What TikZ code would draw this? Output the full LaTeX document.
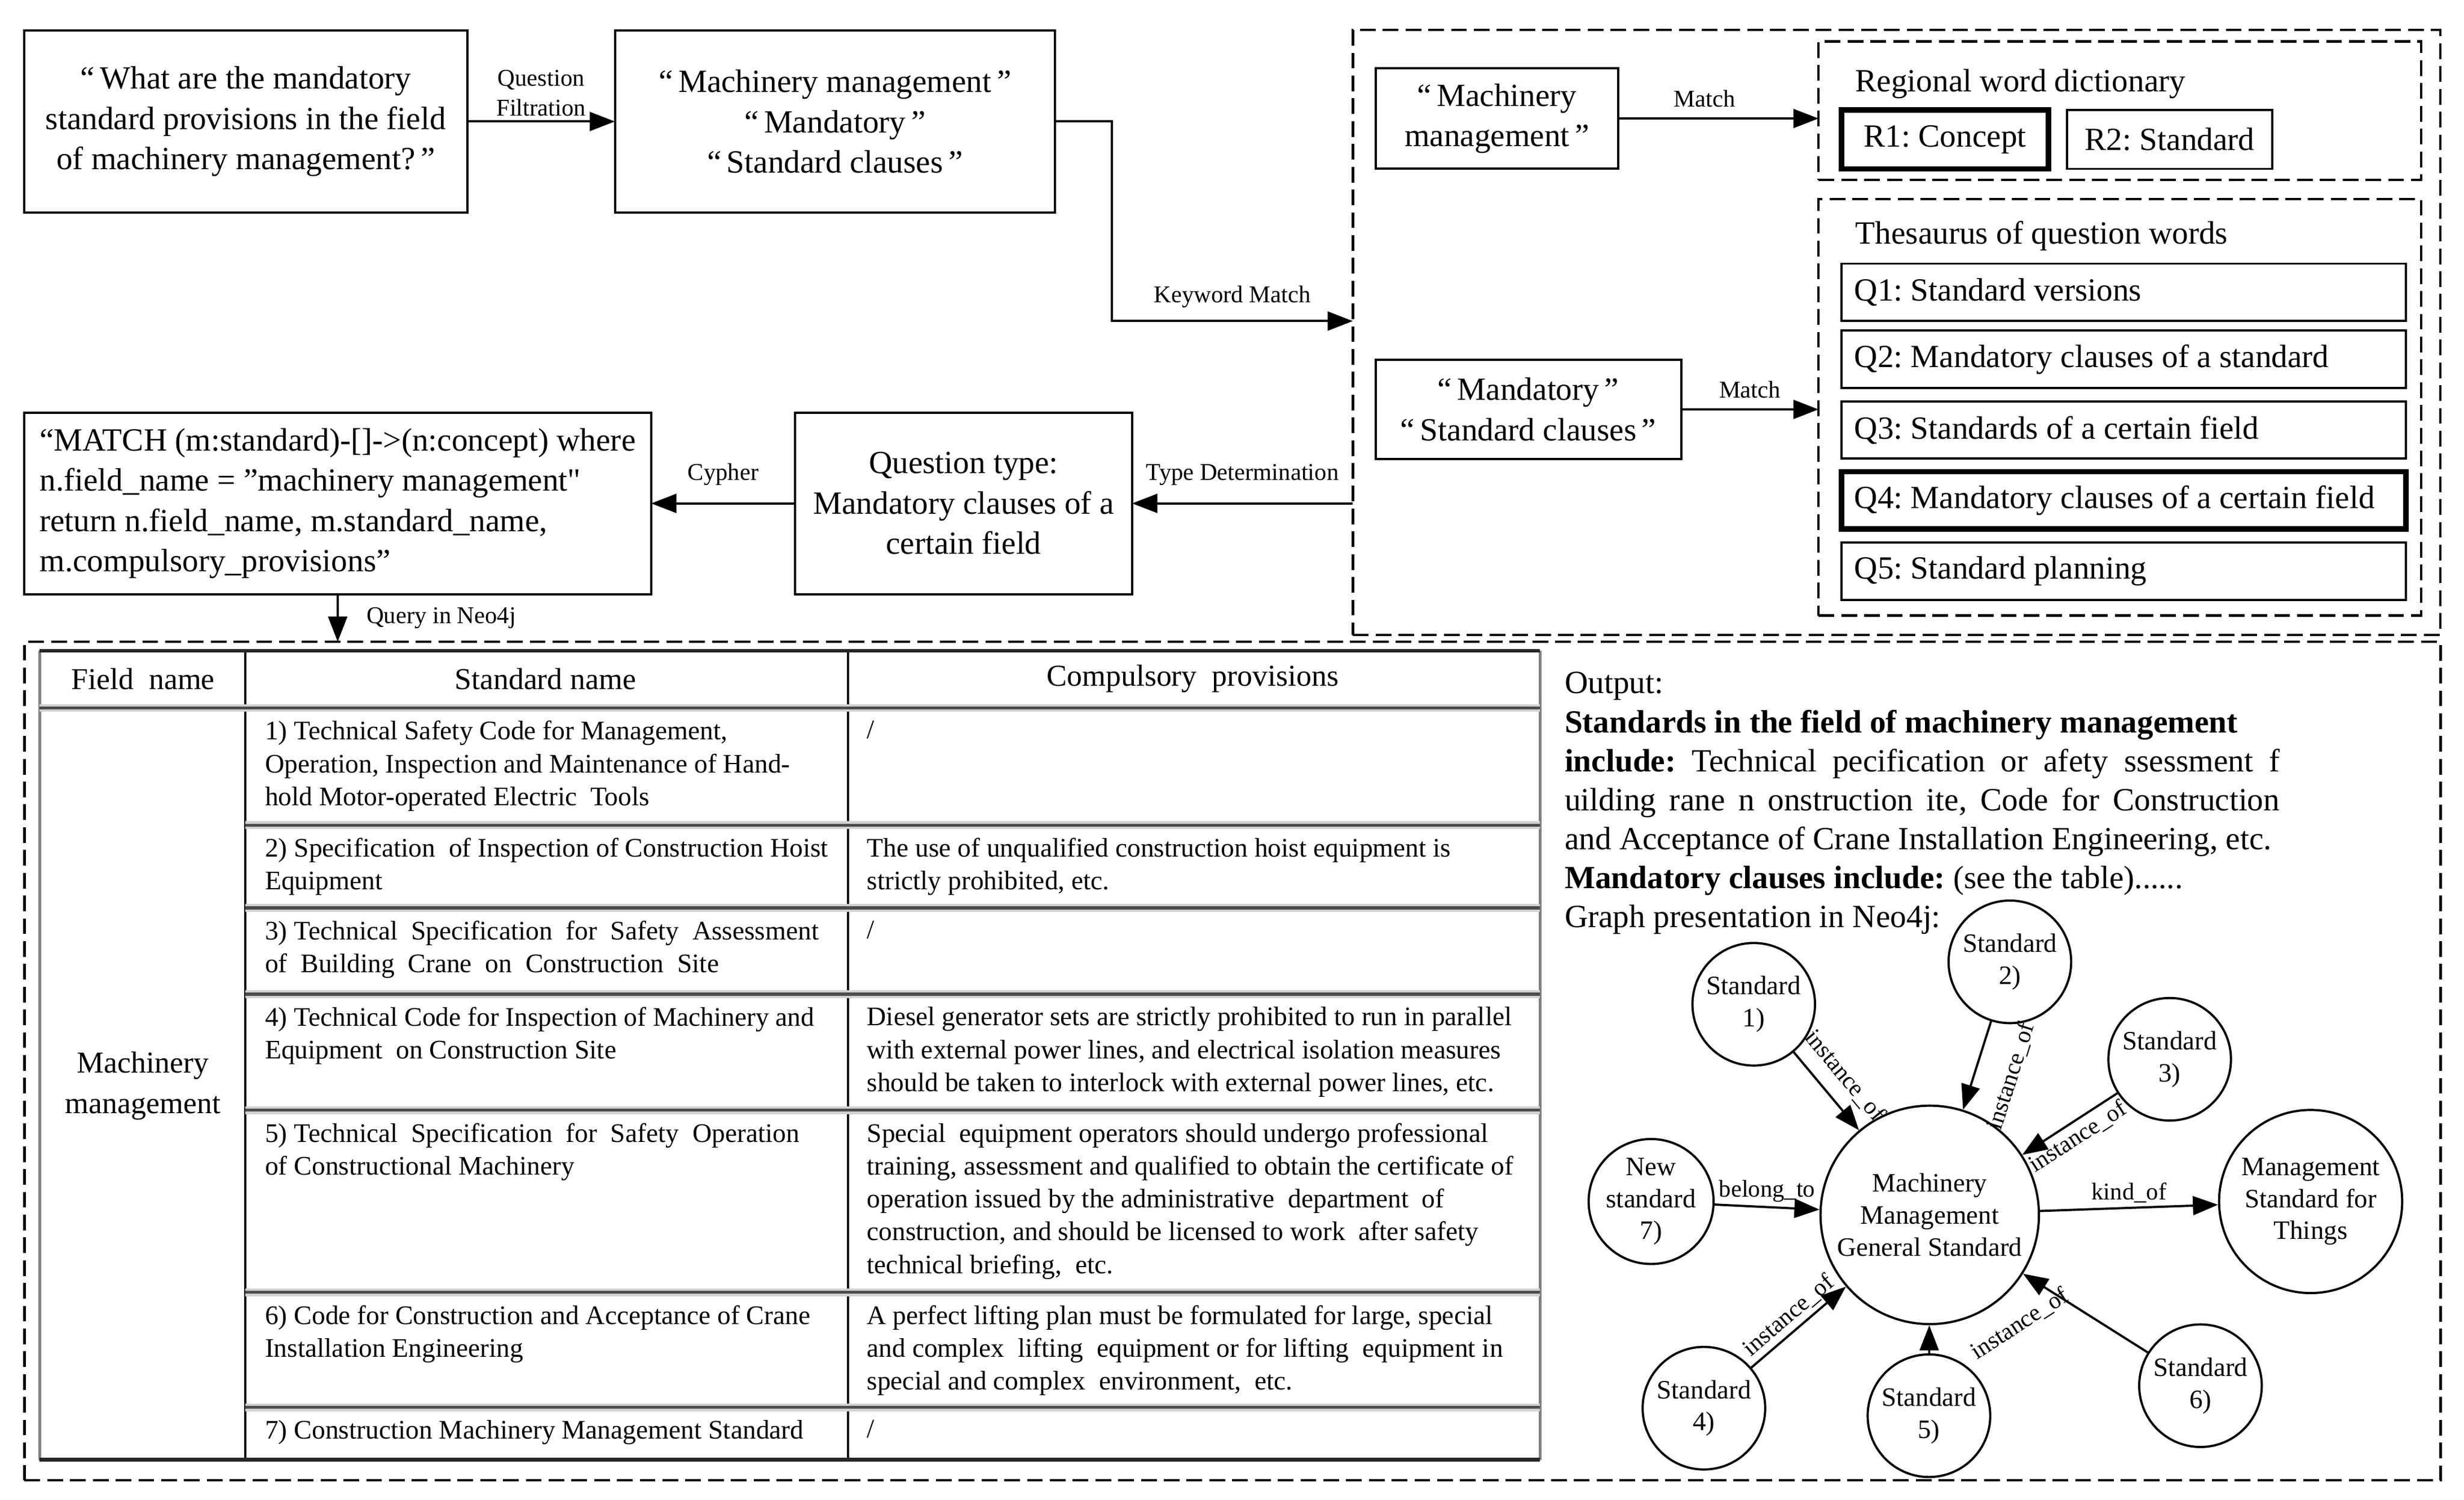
\documentclass[tikz,border=0pt]{standalone}
\usepackage{fontspec}
\setmainfont{Liberation Serif}
\usetikzlibrary{arrows.meta}
\frenchspacing

\begin{document}
\begin{tikzpicture}[x=0.2mm, y=-0.2mm, line width=0.8pt, font=\fontsize{11.7}{14.6}\selectfont,
	box/.style={draw, inner sep=0pt, outer sep=0pt, align=center},
	dbox/.style={draw, line width=0.9pt, dash pattern=on 2mm off 0.9mm, inner sep=0pt, outer sep=0pt},
	qitem/.style={draw, inner sep=0pt, inner xsep=1.6mm, outer sep=0pt, text width=68.6mm, minimum height=7.3mm, align=flush left},
	lbl/.style={font=\fontsize{8.7}{10.8}\selectfont, inner sep=1.5pt, align=center},
	rel/.style={font=\fontsize{8.7}{10}\selectfont, inner sep=1.5pt},
	arr/.style={-{Triangle[length=3.2mm, width=2.4mm]}},
	stdcirc/.style={draw, circle, minimum size=15.6mm, inner sep=0pt, align=center, font=\fontsize{9.6}{11.6}\selectfont},
	thead/.style={inner sep=0pt, align=center, font=\fontsize{11}{14.8}\selectfont},
	tcell/.style={anchor=north west, inner sep=0pt, align=left, font=\fontsize{9.7}{11.9}\selectfont},
	rowrule/.style={line width=1.1pt, black!70, preaction={draw, black!18, line width=2.8pt}}]
	\useasboundingbox (0,0) rectangle (1568,954.4);

	\node[box, minimum width=56.4mm, minimum height=23.2mm] (ques) at (156.4,77.3) {“\,What are the mandatory\\standard provisions in the field\\of machinery management?\,”};
	\node[box, minimum width=56mm, minimum height=23.2mm] (keys) at (531.3,77.3) {“\,Machinery management\,”\\“\,Mandatory\,”\\“\,Standard clauses\,”};
	\draw[arr] (ques) -- node[lbl, above] {Question\\Filtration} (keys);

	\node[dbox, minimum width=138.4mm, minimum height=77mm] (search) at (1206.9,211.6) {};
	\draw[arr] (keys.east) -- ++(36.3,0) |- node[lbl, pos=0.75, above=1mm] {Keyword Match} (search.west |- 0,204.3);

	\node[box, minimum width=30.9mm, minimum height=12.8mm] (mach) at (952.6,75.4) {“\,Machinery\\management\,”};
	\node[dbox, minimum width=76.7mm, minimum height=17.6mm] (regdict) at (1349,70.4) {};
	\node[anchor=west, inner sep=0pt] (regtitle) at (1180,53.4) {Regional word dictionary};
	\node[box, line width=2pt, minimum width=26.3mm, minimum height=7.5mm] (r1) at (1237.7,88.7) {R1: Concept};
	\node[box, minimum width=26.1mm, minimum height=7.5mm] (r2) at (1380.7,88.7) {R2: Standard};
	\draw[arr] (mach) -- node[lbl, pos=0.43, above=0.8mm] {Match} (regdict.west |- mach);

	\node[box, minimum width=38.9mm, minimum height=12.6mm] (mand) at (972.6,260.5) {“\,Mandatory\,”\\“\,Standard clauses\,”};
	\node[dbox, minimum width=76.7mm, minimum height=53mm] (thes) at (1349,259.2) {};
	\node[anchor=west, inner sep=0pt] (thestitle) at (1180,150) {Thesaurus of question words};
	\node[qitem] (q1) at (1351.5,186) {Q1: Standard versions};
	\node[qitem] (q2) at (1351.5,228.6) {Q2: Mandatory clauses of a standard};
	\node[qitem] (q3) at (1351.5,273.6) {Q3: Standards of a certain field};
	\node[qitem, line width=2pt] (q4) at (1351.5,318.4) {Q4: Mandatory clauses of a certain field};
	\node[qitem] (q5) at (1351.5,363.4) {Q5: Standard planning};
	\draw[arr] (mand) -- node[lbl, above=0.8mm] {Match} (thes.west |- mand);

	\node[box, minimum width=42.9mm, minimum height=23.1mm] (qtype) at (613.2,320.3) {Question type:\\Mandatory clauses of a\\certain field};
	\node[box, align=left, minimum width=79.8mm, minimum height=23.1mm] (cypher) at (214.9,320.3) {“MATCH (m:standard)-[]->(n:concept) where\\n.field\_name = ”machinery management\textquotedbl\\return n.field\_name, m.standard\_name,\\m.compulsory\_provisions”};
	\draw[arr] (search.west |- qtype) -- node[lbl, above=1.6mm] {Type Determination} (qtype);
	\draw[arr] (qtype) -- node[lbl, above=1.6mm] {Cypher} (cypher);

	\node[dbox, minimum width=307.5mm, minimum height=106.7mm] (result) at (784.35,675.1) {};
	\draw[arr] (cypher) -- node[lbl, right=3mm] {Query in Neo4j} (cypher |- result.north);

	\draw[black!50, line width=1.1pt] (25.2,414) -- (25.2,928.8);
	\draw[black!50, line width=1.1pt] (980,414) -- (980,928.8);
	\draw (156,414) -- (156,928.8);
	\draw (539.5,414) -- (539.5,928.8);
	\draw[line width=1.3pt, black!85] (25.2,414) -- (980,414);
	\draw[rowrule] (25.2,450.5) -- (980,450.5);
	\foreach \y in {525,577.7,632.6,706.4,822.3,895.5}
		\draw[rowrule] (156,\y) -- (980,\y);
	\draw[line width=1.3pt, black!85] (25.2,928.8) -- (980,928.8);

	\node[thead] (hfield) at (91,432) {Field~ name};
	\node[thead] (hstd) at (347,432) {Standard name};
	\node[thead] (hprov) at (759,432) {Compulsory~ provisions};
	\node[thead] (field) at (91,691) {Machinery\\management};

	\node[tcell] (s1) at (168,458) {1) Technical Safety Code for Management,\\Operation, Inspection and Maintenance of Hand-\\hold Motor-operated Electric~ Tools};
	\node[tcell] (p1) at (551,458) {/};
	\node[tcell] (s2) at (168,532.5) {2) Specification~ of Inspection of Construction Hoist\\Equipment};
	\node[tcell] (p2) at (551,532.5) {The use of unqualified construction hoist equipment is\\strictly prohibited, etc.};
	\node[tcell] (s3) at (168,585.2) {3) Technical~ Specification~ for~ Safety~ Assessment\\of~ Building~ Crane~ on~ Construction~ Site};
	\node[tcell] (p3) at (551,585.2) {/};
	\node[tcell] (s4) at (168,640.1) {4) Technical Code for Inspection of Machinery and\\Equipment~ on Construction Site};
	\node[tcell] (p4) at (551,640.1) {Diesel generator sets are strictly prohibited to run in parallel\\with external power lines, and electrical isolation measures\\should be taken to interlock with external power lines, etc.};
	\node[tcell] (s5) at (168,713.9) {5) Technical~ Specification~ for~ Safety~ Operation\\of Constructional Machinery};
	\node[tcell] (p5) at (551,713.9) {Special~ equipment operators should undergo professional\\training, assessment and qualified to obtain the certificate of\\operation issued by the administrative~ department~ of\\construction, and should be licensed to work~ after safety\\technical briefing,~ etc.};
	\node[tcell] (s6) at (168,829.8) {6) Code for Construction and Acceptance of Crane\\Installation Engineering};
	\node[tcell] (p6) at (551,829.8) {A perfect lifting plan must be formulated for large, special\\and complex~ lifting~ equipment or for lifting~ equipment in\\special and complex~ environment,~ etc.};
	\node[tcell] (s7) at (168,903) {7) Construction Machinery Management Standard};
	\node[tcell] (p7) at (551,903) {/};

	\node[anchor=north west, inner sep=0pt, text width=91mm, align=justify, font=\fontsize{11.7}{14.1}\selectfont] (outtext) at (995,427) {Output:\\\textbf{Standards in the field of machinery management}\\\textbf{include:} Technical pecification or afety ssessment f\linebreak uilding rane n onstruction ite, Code for Construction\linebreak and Acceptance of Crane Installation Engineering, etc.\\\textbf{Mandatory clauses include:} (see the table)......\\Graph presentation in Neo4j:};

	\node[stdcirc] (g1) at (1116,639) {Standard\\1)};
	\node[stdcirc] (g2) at (1279,612) {Standard\\2)};
	\node[stdcirc] (g3) at (1380.7,674) {Standard\\3)};
	\node[stdcirc] (g7) at (1050.7,764.5) {New\\standard\\7)};
	\node[stdcirc, minimum size=27.8mm] (gc) at (1228,773) {Machinery\\Management\\General Standard};
	\node[stdcirc, minimum size=23.3mm] (gt) at (1470.4,764.5) {Management\\Standard for\\Things};
	\node[stdcirc] (g4) at (1084.3,896) {Standard\\4)};
	\node[stdcirc] (g5) at (1227.5,900.8) {Standard\\5)};
	\node[stdcirc] (g6) at (1400.3,881.7) {Standard\\6)};

	\draw[arr] (g1) -- node[rel, sloped, above=1.1mm] {instance\_of} (gc);
	\draw[arr] (g2) -- node[rel, sloped, below=2.6mm] {instance\_of} (gc);
	\draw[arr] (g3) -- node[rel, sloped, below] {instance\_of} (gc);
	\draw[arr] (g7) -- node[rel, above] {belong\_to} (gc);
	\draw[arr] (gc) -- node[rel, above] {kind\_of} (gt);
	\draw[arr] (g4) -- node[rel, sloped, above] {instance\_of} (gc);
	\draw[arr] (g5) -- (gc);
	\draw[arr] (g6) -- node[rel, pos=0.9, shift={(-10,27)}, rotate=33] {instance\_of} (gc);
\end{tikzpicture}
\end{document}
